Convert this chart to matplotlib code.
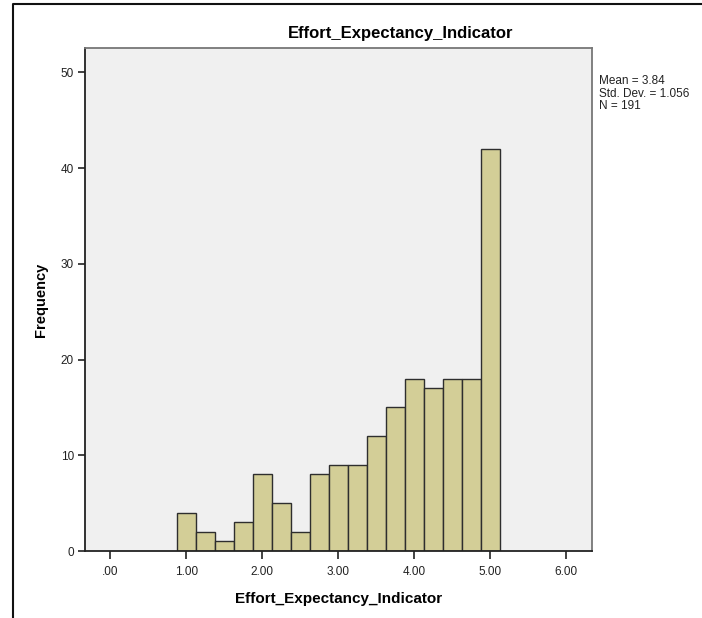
"""
SPSS-style histogram of Effort_Expectancy_Indicator
"""
import numpy as np
import matplotlib
matplotlib.use('Agg')
import matplotlib.pyplot as plt
from matplotlib.lines import Line2D

plt.rcParams['font.family'] = ['Liberation Sans', 'DejaVu Sans']

# bin edges (width 0.25, centred on 1.00 ... 5.00) and counts
bin_edges = [0.875, 1.125, 1.375, 1.625, 1.875, 2.125, 2.375, 2.625, 2.875,
             3.125, 3.375, 3.625, 3.875, 4.125, 4.375, 4.625, 4.875, 5.125]
counts = [4, 2, 1, 3, 8, 5, 2, 8, 9, 9, 12, 15, 18, 17, 18, 18, 42]
x_ticks = [0, 1, 2, 3, 4, 5, 6]
x_tick_labels = ['.00', '1.00', '2.00', '3.00', '4.00', '5.00', '6.00']
y_ticks = [0, 10, 20, 30, 40, 50]
stats_text = 'Mean = 3.84\nStd. Dev. = 1.056\nN = 191'
var_name = 'Effort_Expectancy_Indicator'

fig = plt.figure(figsize=(7.02, 6.18), dpi=100)
ax = fig.add_axes([0.1211, 0.1084, 0.7218, 0.8134])
ax.set_facecolor('#f0f0f0')

lefts = np.array(bin_edges[:-1])
widths = np.diff(bin_edges)
ax.bar(lefts, counts, width=widths, align='edge', color='#d3ce97',
       edgecolor='#2e2e2e', linewidth=1.0)

ax.set_xlim(-1/3, 6 + 1/3)
ax.set_ylim(0, 52.5)
ax.set_xticks(x_ticks)
ax.set_xticklabels(x_tick_labels)
ax.set_yticks(y_ticks)
ax.tick_params(axis='both', direction='out', length=5, width=1.2,
               color='#222222', labelsize=8.5, labelcolor='#222222', pad=3)
ax.tick_params(axis='x', length=6, pad=5)

for side in ['left', 'bottom']:
    ax.spines[side].set_color('#222222')
    ax.spines[side].set_linewidth(1.3)
for side in ['top', 'right']:
    ax.spines[side].set_color('#777777')
    ax.spines[side].set_linewidth(1.3)

ax.set_xlabel(var_name, fontsize=11, fontweight='bold', labelpad=10)
ax.set_ylabel('Frequency', fontsize=10.5, fontweight='bold', labelpad=9)

fig.text(0.571, 0.945, var_name, ha='center', va='center',
         fontsize=12, fontweight='bold')
fig.text(0.853, 0.878, stats_text, ha='left', va='top', fontsize=8.5,
         linespacing=1.05, color='#222222')

# outer frame (top and left edges)
fig.add_artist(Line2D([12.5 / 702, 12.5 / 702, 1.0], [0.0, 1 - 4 / 618, 1 - 4 / 618],
                      transform=fig.transFigure, color='#111111', linewidth=1.5))

plt.savefig('out.png', dpi=100)
plt.close()
